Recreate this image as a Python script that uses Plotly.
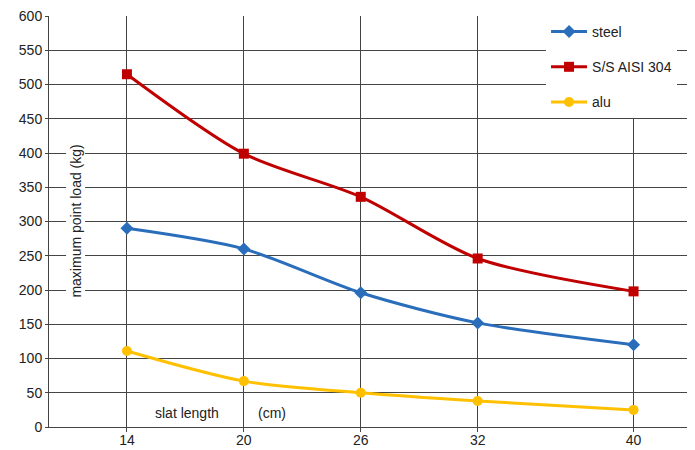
import plotly.graph_objects as go

# slat length (cm) vs maximum point load (kg)
slat_length = [14, 20, 26, 32, 40]
steel = [290, 260, 196, 152, 120]
ss_aisi_304 = [515, 399, 336, 246, 198]
alu = [111, 67, 50, 38, 25]

series = [
    ("steel", steel, "#2A6EBB", "diamond", 10),
    ("S/S AISI 304", ss_aisi_304, "#C00000", "square", 10),
    ("alu", alu, "#FFC000", "circle", 10),
]

font = "Liberation Sans"
grid = "#444444"

fig = go.Figure()
for i, (name, vals, color, sym, size) in enumerate(series):
    fig.add_trace(go.Scatter(
        x=slat_length, y=vals, name=name, legendgroup=str(i),
        mode="lines+markers",
        line=dict(color=color, width=3, shape="spline", smoothing=0.8),
        marker=dict(color=color, symbol=sym, size=size),
    ))

# axis label pieces drawn inside the plot area like the original
fig.add_annotation(text="maximum point load (kg)", textangle=-90,
                   xref="paper", yref="paper", x=0.025, y=0.5,
                   showarrow=False, bgcolor="white",
                   font=dict(family=font, size=14, color="#222"))
fig.add_annotation(text="slat length", x=17.1, y=20, showarrow=False,
                   font=dict(family=font, size=14, color="#222"))
fig.add_annotation(text="(cm)", x=21.45, y=20, showarrow=False,
                   font=dict(family=font, size=14, color="#222"))

fig.update_xaxes(range=[10, 43], tickvals=slat_length, automargin=False,
                 showgrid=True, gridcolor=grid, gridwidth=1,
                 showline=True, linecolor=grid, linewidth=1,
                 ticks="outside", ticklen=4, tickcolor=grid,
                 ticklabelstandoff=-4, ticklabeloverflow="allow",
                 zeroline=False,
                 tickfont=dict(family=font, size=14, color="#222"))
fig.update_yaxes(range=[0, 600], dtick=50, automargin=False,
                 showgrid=True, gridcolor=grid, gridwidth=1,
                 showline=True, linecolor=grid, linewidth=1,
                 ticks="outside", ticklen=3, tickcolor=grid,
                 ticklabeloverflow="allow", zeroline=False,
                 tickfont=dict(family=font, size=14, color="#222"))

# page body has an 8px margin, so the figure is sized to fill the rest
fig.update_layout(
    width=687, height=442,
    margin=dict(l=41, r=3, t=8, b=23),
    plot_bgcolor="white", paper_bgcolor="white",
    showlegend=True,
    legend=dict(x=0.773, y=1, xanchor="left", yanchor="top",
                bgcolor="white", traceorder="grouped", tracegroupgap=14,
                font=dict(family=font, size=14, color="#222"),
                itemwidth=36),
)

fig.write_html("out.html")
